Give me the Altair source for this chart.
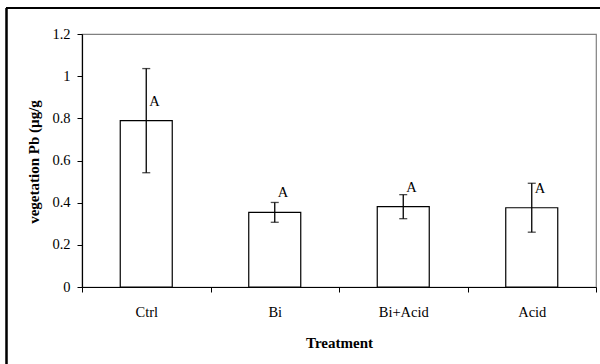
import altair as alt
import pandas as pd

treatments = ["Ctrl", "Bi", "Bi+Acid", "Acid"]
means = [0.789, 0.354, 0.381, 0.376]
errors = [0.247, 0.047, 0.057, 0.116]
letters = ["A", "A", "A", "A"]
y_ticks = [0, 0.2, 0.4, 0.6, 0.8, 1.0, 1.2]

df = pd.DataFrame({
    "Treatment": treatments,
    "mean": means,
    "lo": [m - e for m, e in zip(means, errors)],
    "hi": [m + e for m, e in zip(means, errors)],
    "letter": letters,
})

FONT = "Liberation Serif"

x_enc = alt.X(
    "Treatment:N",
    sort=treatments,
    scale=alt.Scale(paddingInner=0, paddingOuter=0),
    axis=alt.Axis(
        title="Treatment",
        titleFont=FONT, titleFontSize=15, titleFontWeight="bold", titleColor="black",
        titleBaseline="middle", titleY=55,
        labelFont=FONT, labelFontSize=14.5, labelColor="black", labelAngle=0,
        labelBaseline="middle", labelPadding=20,
        tickBand="extent", tickSize=5, tickColor="black", tickWidth=1,
        domainColor="black", domainWidth=1.2,
    ),
)

y_scale = alt.Scale(domain=[0, 1.2], nice=False)

bars = alt.Chart(df).mark_bar(size=52, fill="white", stroke="black", strokeWidth=1.2).encode(
    x=x_enc,
    y=alt.Y(
        "mean:Q",
        scale=y_scale,
        axis=alt.Axis(
            values=y_ticks, format="~g", grid=False,
            title="vegetation Pb (µg/g",
            titleFont=FONT, titleFontSize=15, titleFontWeight="bold", titleColor="black",
            titleAngle=270, titleAlign="center", titleBaseline="middle",
            titleX=-49, titleY=127.5,
            labelFont=FONT, labelFontSize=14.5, labelColor="black", labelPadding=7,
            tickSize=5, tickColor="black", tickWidth=1,
            domainColor="black", domainWidth=1.2,
        ),
    ),
)

err = alt.Chart(df).mark_rule(color="black", strokeWidth=1.3).encode(
    x=alt.X("Treatment:N", sort=treatments),
    y=alt.Y("lo:Q", scale=y_scale),
    y2="hi:Q",
)

cap_lo = alt.Chart(df).mark_tick(color="black", size=8, thickness=1.3).encode(
    x=alt.X("Treatment:N", sort=treatments),
    y=alt.Y("lo:Q", scale=y_scale),
)
cap_hi = alt.Chart(df).mark_tick(color="black", size=8, thickness=1.3).encode(
    x=alt.X("Treatment:N", sort=treatments),
    y=alt.Y("hi:Q", scale=y_scale),
)

labels = alt.Chart(df).mark_text(
    align="left", baseline="middle", dx=3, dy=-19, font=FONT, fontSize=14.5, color="black"
).encode(
    x=alt.X("Treatment:N", sort=treatments),
    y=alt.Y("mean:Q", scale=y_scale),
    text="letter:N",
)

border_left = alt.Chart(df).mark_rule(color="black", strokeWidth=1.6).encode(
    x=alt.value(-75.5), y=alt.value(-26), y2=alt.value(340)
)
border_top = alt.Chart(df).mark_rule(color="black", strokeWidth=1.6).encode(
    x=alt.value(-76), x2=alt.value(530), y=alt.value(-26)
)

chart = alt.layer(bars, err, cap_lo, cap_hi, labels, border_left, border_top).properties(
    width=514,
    height=253,
    autosize=alt.AutoSizeParams(type="none"),
    padding={"left": 82, "top": 34, "right": 4, "bottom": 77},
    background="white",
).configure_view(stroke="#808080", strokeWidth=1.2)

chart.save("out.html", embed_options={"renderer": "svg", "actions": False})
